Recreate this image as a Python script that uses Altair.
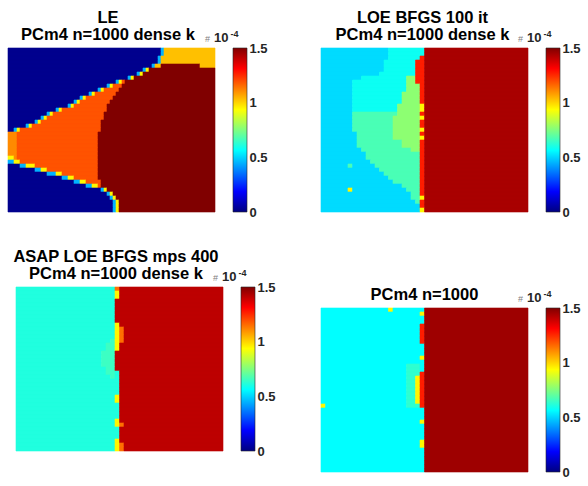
import altair as alt
import pandas as pd

# jet colour map (values in units of 1e-4)
jet_domain = [0.0, 0.1875, 0.5625, 0.9375, 1.3125, 1.5]
jet_colors = ["#000080", "#0000ff", "#00ffff", "#ffff00", "#ff0000", "#800000"]
cbar_ticks = [0, 0.5, 1, 1.5]
cbar_range = [0.0, 1.5]
cbar_prefix = "#"
cbar_base = "10"
cbar_power = "-4"

# value (x1e-4) of each letter used in the grids below
code_values = {
    "B": 0.02, "c": 0.45, "y": 0.95, "O": 1.19, "L": 1.11, "T": 1.03, "D": 1.5,
    "P": 0.51, "Q": 0.58, "G": 0.67, "V": 0.77, "R": 1.27, "E": 1.44,
    "A": 0.61, "a": 0.65, "F": 1.41, "o": 1.15,
    "C": 0.5625, "g": 0.63, "H": 1.455,
}

title_le = ["LE", "PCm4 n=1000 dense k"]
title_loe = ["LOE BFGS 100 it", "PCm4 n=1000 dense k"]
title_asap = ["ASAP LOE BFGS mps 400", "PCm4 n=1000 dense k"]
title_pc = "PCm4 n=1000"

# run-length rows (top to bottom): letter + run length
le_rows = [
    "B51 c1 T17", "B51 c1 T17", "B50 c1 T18", "B50 c1 T18", "B48 c1 T2 D13 T5",
    "B45 c1 y1 D22", "B43 c1 y1 D24", "B40 c1 y1 D27", "B36 c1 y1 O1 D30",
    "B33 c1 y1 O3 D31", "B30 c1 y1 O5 D32", "B27 c1 y1 O7 D33", "B24 c1 y1 O9 D34",
    "B22 c1 y1 O10 D35", "B20 c1 y1 O11 D36", "B16 c1 y1 O15 D36", "B13 c1 y1 O17 D37",
    "B11 c1 y1 O19 D37", "B9 c1 y1 O20 D38", "B6 c1 y1 O23 D38", "B2 c1 y1 O27 D38",
    "L3 O27 D39", "L3 O27 D39", "L3 O27 D39", "L3 O27 D39", "L3 O27 D39", "L3 O27 D39",
    "y2 L1 O27 D39", "c2 y2 O26 D39", "B4 c2 y3 O21 D39", "B9 c2 y2 O17 D39",
    "B13 c3 y2 O12 D39", "B18 c2 y2 O8 D39", "B22 c2 y2 O5 D38", "B26 c2 y2 O1 D38",
    "B31 c1 y1 D36", "B33 c1 y1 D34", "B34 c1 y1 D33", "B35 c1 y1 D32",
    "B35 c1 y1 D32", "B35 c1 y1 D32",
]
loe_rows = [
    "P15 Q8 E23", "P15 Q8 E23", "P15 Q7 R1 E23", "P14 Q7 R2 E23", "P14 Q7 R2 E23",
    "P14 Q7 R2 E23", "P13 Q8 R2 E23", "P9 Q10 V2 R2 E23", "P7 Q12 V2 R2 E23",
    "P7 Q12 V3 R1 E23", "P7 Q12 V3 R1 E23", "P7 Q11 V4 R1 E23", "P7 Q11 V4 R1 E23",
    "P7 Q11 V4 R1 E23", "P7 Q10 V5 y1 E23", "P7 Q10 V5 y1 E23", "P7 G10 V5 R1 E23",
    "P7 G9 V6 y1 E23", "P7 G9 V6 R1 E23", "P7 G9 V6 R1 E23", "P7 G9 V6 y1 E23",
    "P8 G8 V6 R1 E23", "P8 G8 V6 y1 E23", "P8 G10 V4 R1 E23", "P8 G10 V4 R1 E23",
    "P9 G11 V2 R1 E23", "P10 G12 R1 E23", "P10 G12 R1 E23", "P11 G11 R1 E23",
    "P6 G1 P5 G10 R1 E23", "P13 G9 R1 E23", "P14 G8 R1 E23", "P15 G7 R1 E23",
    "P16 G6 R1 E23", "P18 G4 R1 E23", "P6 y1 P12 G3 R1 E23", "P20 G2 R1 E23",
    "P20 G2 y1 E23", "P21 G1 R1 E23", "P22 R1 E23", "P22 y1 E23",
]
asap_rows = [
    "A22 o1 F23", "A22 y1 F23", "A22 y1 F23", "A22 F24", "A22 F24", "A22 F24",
    "A22 F24", "A22 F24", "A22 F24", "A22 y1 F23", "A22 y1 o1 F22", "A22 y1 o1 F22",
    "A22 y1 o1 F22", "A21 a1 y1 o1 F22", "A20 a2 y1 F23", "A20 a2 y1 F23",
    "A19 a3 F24", "A19 a3 F24", "A19 a3 F24", "A19 a3 F24", "A20 a2 F24",
    "A20 a2 A1 F23", "A21 a1 A1 F23", "A23 F23", "A23 F23", "A23 F23", "A23 F23",
    "A22 y1 F23", "A22 y1 F23", "A23 F23", "A23 F23", "A23 F23", "A23 F23",
    "A22 y1 F23", "A22 y1 o1 F22", "A23 F23", "A23 F23", "A23 F23",
    "A22 y1 F23", "A22 y1 o1 F22", "A22 y1 o1 F22",
]
pc_rows = [
    "C15 y1 C7 H23", "C22 y1 H23", "C23 H23", "C23 H23", "C22 R1 H23", "C22 R1 H23",
    "C22 R1 H23", "C22 R1 H23", "C22 R1 H23", "C23 H23", "C23 H23", "C23 H23",
    "C22 y1 H23", "C23 H23", "C19 g3 C1 H23", "C19 g3 C1 H23", "C19 g3 R1 H23",
    "C19 g2 y1 R1 H23", "C19 g2 y1 R1 H23", "C19 g2 y1 R1 H23", "C19 g2 y1 R1 H23",
    "C19 g2 y1 R1 H23", "C19 g2 y1 R1 H23", "C19 g2 y1 R1 H23", "y1 C18 g3 R1 H23",
    "C23 H23", "C23 H23", "C23 H23", "C22 y1 H23", "C23 H23", "C23 H23", "C23 H23",
    "C23 H23", "C22 y1 H23", "C22 y1 H23", "C23 H23", "C23 H23", "C23 H23",
    "C23 H23", "C23 H23", "C23 H23",
]

FONT = "Liberation Sans"
INK = "#262626"
PLOT_W = 207
PLOT_H = 164


def grid_frame(rows):
    recs = []
    nrows = len(rows)
    ncols = None
    for r, row in enumerate(rows):
        runs = [(tok[0], int(tok[1:])) for tok in row.split()]
        total = sum(n for _, n in runs)
        if ncols is None:
            ncols = total
        c = 0
        for code, n in runs:
            recs.append({"x0": c / ncols, "x1": (c + n) / ncols,
                         "y0": r / nrows, "y1": (r + 1) / nrows,
                         "v": code_values[code]})
            c += n
    return pd.DataFrame(recs)


def jet_scale():
    return alt.Scale(domain=jet_domain, range=jet_colors, interpolate="rgb", clamp=True)


gradient = {
    "gradient": "linear", "x1": 0, "y1": 1, "x2": 0, "y2": 0,
    "stops": [{"offset": d / jet_domain[-1], "color": c} for d, c in zip(jet_domain, jet_colors)],
}

one = pd.DataFrame({"k": [0]})


def panel(rows, title_lines, title_x, title_y, shift=0):
    df = grid_frame(rows)
    heat = alt.Chart(df).mark_rect(opacity=1, strokeWidth=0.6).encode(
        x=alt.X("x0:Q", scale=alt.Scale(domain=[-shift / PLOT_W, 1], nice=False, zero=False),
                axis=None),
        x2="x1:Q",
        y=alt.Y("y0:Q", scale=alt.Scale(domain=[0, 1], nice=False, reverse=True), axis=None),
        y2="y1:Q",
        color=alt.Color("v:Q", scale=jet_scale(), legend=None),
        stroke=alt.Stroke("v:Q", scale=jet_scale(), legend=None),
    )
    cbar = alt.Chart(pd.DataFrame({"lo": [cbar_range[0]], "hi": [cbar_range[1]]})).mark_rect(
        fill=gradient, stroke=INK, strokeWidth=0.6
    ).encode(
        x=alt.value(225 + shift), x2=alt.value(239 + shift),
        y=alt.Y("lo:Q", scale=alt.Scale(domain=cbar_range, nice=False),
                axis=alt.Axis(orient="right", offset=32, values=cbar_ticks, format="~g",
                              ticks=False, tickSize=0, domain=False, grid=False,
                              labelPadding=2, labelFont=FONT, labelFontSize=13,
                              labelFontWeight="bold", labelColor=INK, title=None)),
        y2="hi:Q",
    )
    title = alt.Chart(one).mark_text(
        align="center", baseline="alphabetic", font=FONT, fontSize=16.5,
        fontWeight="bold", lineHeight=16.5, color="black"
    ).encode(x=alt.value(title_x + shift), y=alt.value(title_y), text=alt.value(title_lines))
    pre = alt.Chart(one).mark_text(align="left", baseline="alphabetic", font=FONT,
                                   fontSize=9, color="#808080").encode(
        x=alt.value(197 + shift), y=alt.value(-6.3), text=alt.value(cbar_prefix))
    base = alt.Chart(one).mark_text(align="left", baseline="alphabetic", font=FONT,
                                    fontSize=13, fontWeight="bold", color=INK).encode(
        x=alt.value(206 + shift), y=alt.value(-6.3), text=alt.value(cbar_base))
    power = alt.Chart(one).mark_text(align="left", baseline="alphabetic", font=FONT,
                                     fontSize=9, fontWeight="bold", color=INK).encode(
        x=alt.value(222.5 + shift), y=alt.value(-11.5), text=alt.value(cbar_power))
    return alt.layer(heat, cbar, title, pre, base, power).resolve_scale(
        y="independent").resolve_axis(y="independent").properties(
        width=PLOT_W + shift, height=PLOT_H)


p_le = panel(le_rows, title_le, 100, -25)
p_loe = panel(loe_rows, title_loe, 101.5, -25)
p_asap = panel(asap_rows, title_asap, 100, -25, shift=8)
p_pc = panel(pc_rows, title_pc, 103.5, -8)

left = alt.vconcat(p_le, p_asap, spacing=30)
right = alt.vconcat(p_loe, p_pc, spacing=68)
chart = alt.hconcat(left, right, spacing=44).properties(
    padding={"left": 7, "top": 10, "right": 2, "bottom": 2}
).configure_view(stroke=None)

chart.save("out.html", embed_options={"renderer": "svg", "actions": False})
